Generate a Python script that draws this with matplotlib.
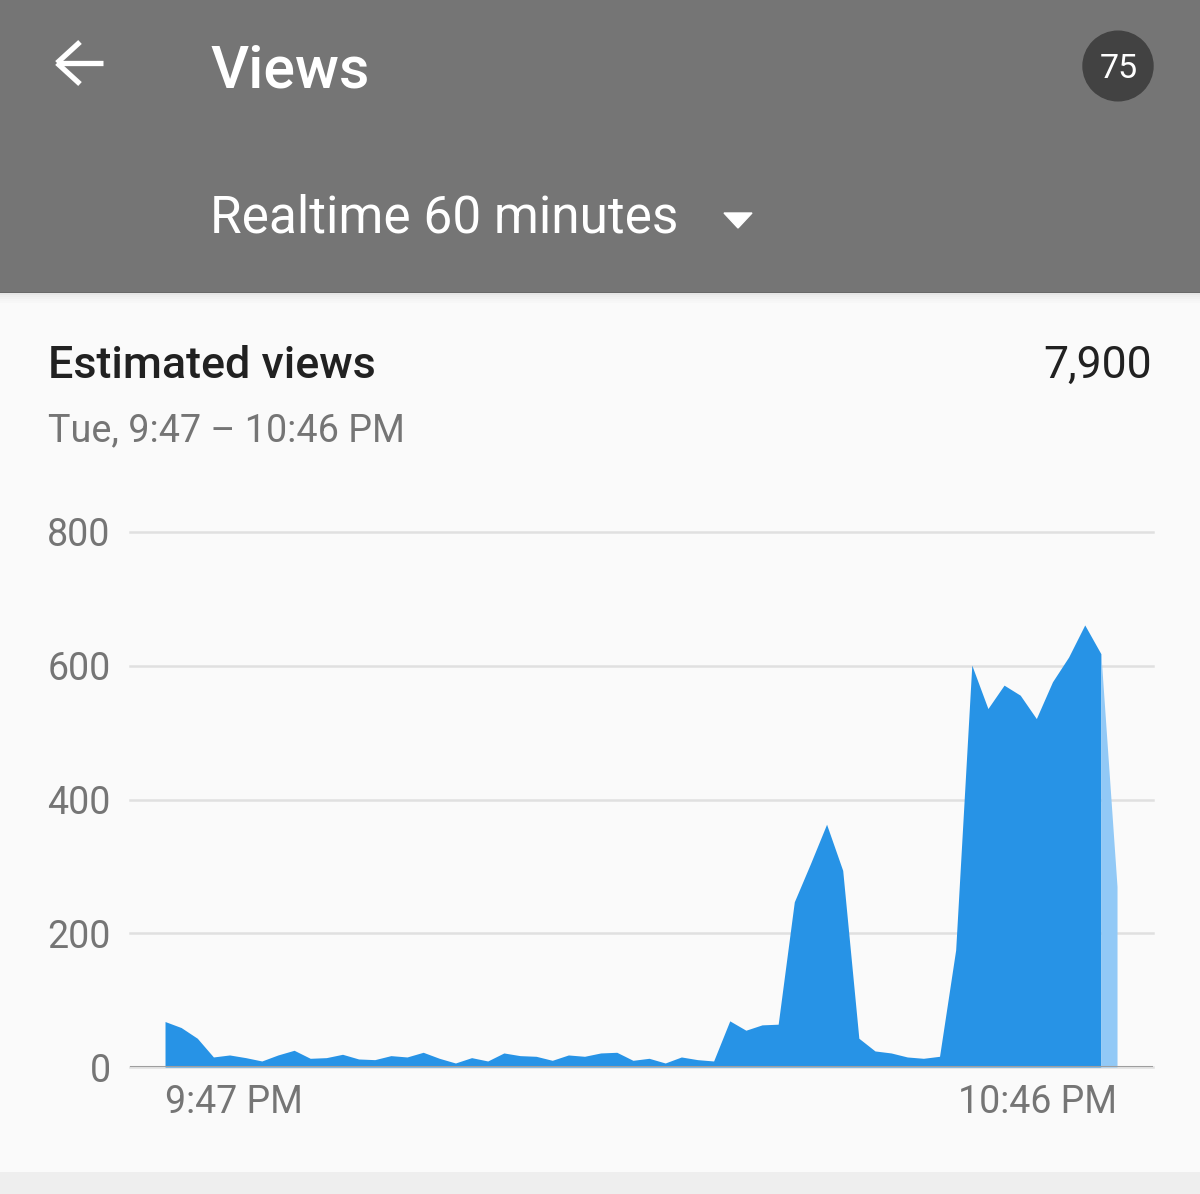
import matplotlib
matplotlib.use('Agg')

import matplotlib.pyplot as plt
from matplotlib.patches import Rectangle, Circle, Polygon
from matplotlib.lines import Line2D

plt.rcParams['font.family'] = ['Roboto', 'DejaVu Sans']

# views per minute, 9:47 PM .. 10:46 PM (last minute still partial)
minutes = list(range(60))
views = [68, 59, 43, 15, 18, 14, 9, 18, 25, 13,
         14, 19, 12, 11, 17, 15, 22, 13, 6, 14,
         9, 21, 17, 16, 10, 18, 16, 21, 22, 10,
         13, 6, 15, 11, 9, 69, 55, 63, 64, 247,
         304, 363, 294, 43, 24, 21, 15, 13, 16, 175,
         601, 536, 571, 556, 521, 576, 613, 661, 618, 270]
y_ticks = [0, 200, 400, 600, 800]
x_tick_labels = ["9:47 PM", "10:46 PM"]

W, H = 1200, 1194
fig = plt.figure(figsize=(W / 100, H / 100), dpi=100)
fig.patch.set_facecolor('#fafafa')


def fx(px):
    return px / W


def fy(py):
    return 1 - py / H


# header bar + soft shadow
fig.patches.append(Rectangle((0, fy(292)), 1, 292 / H, transform=fig.transFigure,
                             color='#757575', lw=0, zorder=0))
fig.patches.append(Rectangle((0, fy(293)), 1, 1.2 / H, transform=fig.transFigure,
                             color='#686868', lw=0, zorder=0))
for k, a in enumerate([0.08, 0.05, 0.035, 0.02, 0.01]):
    fig.patches.append(Rectangle((0, fy(295 + k * 2)), 1, 2 / H, transform=fig.transFigure,
                                 color='black', alpha=a, lw=0, zorder=0))
# bottom strip
fig.patches.append(Rectangle((0, 0), 1, 22 / H, transform=fig.transFigure,
                             color='#eeeeee', lw=0, zorder=0))

# back arrow
for xs, ys in [([57, 103], [63, 63]), ([57, 80], [63, 42]), ([57, 80], [63, 84])]:
    fig.lines.append(Line2D([fx(v) for v in xs], [fy(v) for v in ys], transform=fig.transFigure,
                            color='white', lw=3.8, solid_capstyle='butt'))

fig.text(fx(210), fy(88), "Views", color='white', fontsize=42.5, weight='medium',
         va='baseline', ha='left')
fig.patches.append(Circle((fx(1118), fy(66)), 35 / W, transform=fig.transFigure,
                          color='#424242', zorder=1))
fig.text(fx(1119), fy(78), "75", color='white', fontsize=24.5, va='baseline', ha='center')
fig.text(fx(210), fy(233), "Realtime 60 minutes", color='white', fontsize=37,
         va='baseline', ha='left')
fig.patches.append(Polygon([(fx(724), fy(213)), (fx(752), fy(213)), (fx(738), fy(228))],
                           closed=True, transform=fig.transFigure, color='white'))

fig.text(fx(48), fy(378), "Estimated views", color='#212121', fontsize=32.3,
         weight='medium', va='baseline', ha='left')
fig.text(fx(1152), fy(378), "7,900", color='#212121', fontsize=32,
         va='baseline', ha='right')
fig.text(fx(48), fy(441), "Tue, 9:47 – 10:46 PM", color='#757575', fontsize=27.2,
         va='baseline', ha='left')

ax = fig.add_axes([fx(130), fy(1067), (1153 - 130) / W, (1067 - 532) / H])
ax.set_facecolor('#fafafa')
ax.fill_between(minutes[:59], views[:59], 0, color='#2793e6', lw=0, zorder=3)
ax.fill_between(minutes[58:], views[58:], 0, color='#92c9f6', lw=0, zorder=3)

ax.set_xlim(-2.17, 61.23)
ax.set_ylim(0, 800)
ax.set_yticks(y_ticks)
ax.set_yticklabels([str(v) for v in y_ticks])
ax.set_xticks([minutes[0], minutes[-1]])
ax.set_xticklabels(x_tick_labels)
xt = ax.get_xticklabels()
xt[0].set_horizontalalignment('left')
xt[1].set_horizontalalignment('right')
ax.tick_params(axis='both', length=0, colors='#757575', labelsize=27)
ax.tick_params(axis='y', pad=14)
ax.tick_params(axis='x', pad=12)
for s in ax.spines.values():
    s.set_visible(False)
ax.yaxis.grid(True, color='#e0e0e0', lw=1.8, clip_on=False)
ax.set_axisbelow(True)
ax.axhline(0, color='#9e9e9e', lw=2.2, zorder=4)

fig.savefig('out.png', dpi=100, facecolor=fig.get_facecolor())
